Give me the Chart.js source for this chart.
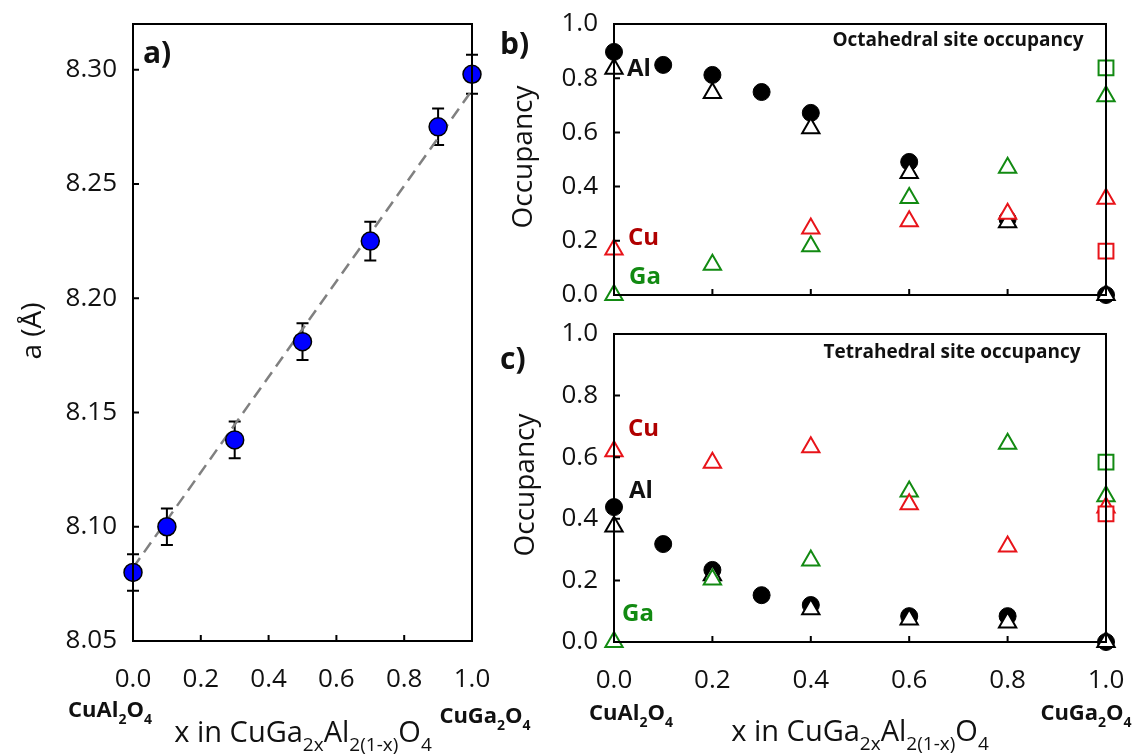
<!DOCTYPE html>
<html>
<head>
<meta charset="utf-8">
<script src="https://cdn.jsdelivr.net/npm/chart.js@4.4.1/dist/chart.umd.min.js"></script>
<style>
  body { margin: 0; background: #fff; }
  #wrap { position: relative; width: 1136px; height: 754px; }
  canvas { position: absolute; left: 0; top: 0; }
</style>
</head>
<body>
<div id="wrap">
  <canvas id="chartA" width="1136" height="754"></canvas>
  <canvas id="chartB" width="1136" height="754"></canvas>
  <canvas id="chartC" width="1136" height="754"></canvas>
</div>
<script>
// tick labels
const xTicks = [0, 0.2, 0.4, 0.6, 0.8, 1.0];
const aTicks = [8.05, 8.10, 8.15, 8.20, 8.25, 8.30];
const occTicks = [0, 0.2, 0.4, 0.6, 0.8, 1.0];

// a) lattice parameter vs x
const xLattice = [0, 0.1, 0.3, 0.5, 0.7, 0.9, 1.0];
const aLattice = [8.080, 8.100, 8.138, 8.181, 8.225, 8.275, 8.298];
const aError = [0.008, 0.008, 0.008, 0.008, 0.0085, 0.008, 0.0085];
const fitX = [0, 1];
const fitY = [8.082, 8.291];

// b) + c) site occupancies
const xCircle = [0, 0.1, 0.2, 0.3, 0.4, 0.6, 0.8, 1.0];
const xTri = [0, 0.2, 0.4, 0.6, 0.8, 1.0];
const xEnd = [1.0];

const octAlCircle = [0.897, 0.849, 0.812, 0.749, 0.672, 0.491, 0.28, 0.0];
const octAlTri = [0.835, 0.745, 0.615, 0.45, 0.268, 0.0];
const octCuTri = [0.168, null, 0.245, 0.272, 0.30, 0.355];
const octGaTri = [0.0, 0.112, 0.18, 0.358, 0.47, 0.733];
const octGaSq = [0.838];
const octCuSq = [0.162];

const tetAlCircle = [0.438, 0.318, 0.234, 0.152, 0.12, 0.084, 0.084, 0.0];
const tetAlTri = [0.375, 0.217, 0.106, 0.073, 0.063, 0.0];
const tetCuTri = [0.619, 0.582, 0.632, 0.447, 0.31, 0.437];
const tetGaTri = [0.0, 0.203, 0.265, 0.489, 0.644, 0.473];
const tetGaSq = [0.584];
const tetCuSq = [0.416];

const RED = '#e8141a';
const DARKRED = '#b00000';
const GREEN = '#128a12';
const FONT = '"Open Sans"';

Chart.defaults.font.family = FONT;
Chart.defaults.color = '#111';

function pts(xs, ys) {
  return xs.map((x, i) => ({ x: x, y: ys[i] }));
}

// text with subscripts, parts = [[text, isSub], ...]
function drawRich(ctx, parts, x, y, size, weight, align) {
  const sub = Math.round(size * 0.64);
  ctx.textAlign = 'left';
  ctx.textBaseline = 'alphabetic';
  let w = 0;
  parts.forEach(p => {
    ctx.font = weight + ' ' + (p[1] ? sub : size) + 'px ' + FONT;
    w += ctx.measureText(p[0]).width;
  });
  let cx = align === 'center' ? x - w / 2 : x;
  parts.forEach(p => {
    ctx.font = weight + ' ' + (p[1] ? sub : size) + 'px ' + FONT;
    ctx.fillText(p[0], cx, p[1] ? y + size * 0.3 : y);
    cx += ctx.measureText(p[0]).width;
  });
}

const xTitle = [['x in CuGa', 0], ['2x', 1], ['Al', 0], ['2(1-x)', 1], ['O', 0], ['4', 1]];
const cuAl = [['CuAl', 0], ['2', 1], ['O', 0], ['4', 1]];
const cuGa = [['CuGa', 0], ['2', 1], ['O', 0], ['4', 1]];

// frame, inward ticks and labels
function makeDeco(yTickVals, texts, errorBars) {
  return {
    id: 'deco',
    beforeDatasetsDraw(chart) {
      const ctx = chart.ctx;
      if (errorBars) {
        const xs = chart.scales.x, ys = chart.scales.y;
        ctx.save();
        ctx.strokeStyle = '#000';
        ctx.lineWidth = 2;
        xLattice.forEach((xv, i) => {
          const px = xs.getPixelForValue(xv);
          const top = ys.getPixelForValue(aLattice[i] + aError[i]);
          const bot = ys.getPixelForValue(aLattice[i] - aError[i]);
          ctx.beginPath();
          ctx.moveTo(px, top); ctx.lineTo(px, bot);
          ctx.moveTo(px - 6, top); ctx.lineTo(px + 6, top);
          ctx.moveTo(px - 6, bot); ctx.lineTo(px + 6, bot);
          ctx.stroke();
        });
        ctx.restore();
      }
    },
    afterDraw(chart) {
      const ctx = chart.ctx;
      const a = chart.chartArea;
      const xs = chart.scales.x, ys = chart.scales.y;
      ctx.save();
      ctx.strokeStyle = '#000';
      ctx.lineWidth = 2;
      ctx.strokeRect(a.left, a.top, a.right - a.left, a.bottom - a.top);
      ctx.beginPath();
      xTicks.forEach(v => {
        const px = xs.getPixelForValue(v);
        ctx.moveTo(px, a.bottom); ctx.lineTo(px, a.bottom - 6);
      });
      yTickVals.forEach(v => {
        const py = ys.getPixelForValue(v);
        ctx.moveTo(a.left, py); ctx.lineTo(a.left + 6, py);
      });
      ctx.stroke();
      texts.forEach(t => {
        ctx.fillStyle = t.color || '#111';
        if (t.rich) {
          drawRich(ctx, t.rich, t.x, t.y, t.size, t.weight || 'normal', t.align || 'center');
          return;
        }
        ctx.font = (t.weight || 'normal') + ' ' + t.size + 'px ' + FONT;
        ctx.textAlign = t.align || 'left';
        ctx.textBaseline = t.base || 'middle';
        if (t.rotate) {
          ctx.save();
          ctx.translate(t.x, t.y);
          ctx.rotate(-Math.PI / 2);
          ctx.fillText(t.text, 0, 0);
          ctx.restore();
        } else {
          ctx.fillText(t.text, t.x, t.y);
        }
      });
      ctx.restore();
    }
  };
}

function scales(xShowLabels, yMin, yMax, yVals, yDigits) {
  return {
    x: {
      type: 'linear', min: 0, max: 1,
      afterBuildTicks: s => { s.ticks = xTicks.map(v => ({ value: v })); },
      afterFit: s => { s.height = 60; s.paddingLeft = 0; s.paddingRight = 0; },
      grid: { display: false, drawTicks: false },
      border: { display: false },
      ticks: {
        display: xShowLabels, padding: 23,
        font: { size: 26 },
        callback: v => v.toFixed(1)
      }
    },
    y: {
      type: 'linear', min: yMin, max: yMax,
      afterBuildTicks: s => { s.ticks = yVals.map(v => ({ value: v })); },
      afterFit: s => { s.width = 100; s.paddingTop = 0; s.paddingBottom = 0; },
      grid: { display: false, drawTicks: false },
      border: { display: false },
      ticks: {
        padding: 16,
        font: { size: 26 },
        callback: v => v.toFixed(yDigits)
      }
    }
  };
}

const common = {
  responsive: false,
  animation: false,
  events: [],
  plugins: { legend: { display: false }, tooltip: { enabled: false } }
};

function triSet(xs, ys, color, order) {
  return {
    data: pts(xs, ys), pointStyle: 'triangle', pointRadius: 10,
    backgroundColor: '#fff', borderColor: color, borderWidth: 2,
    order: order, clip: false
  };
}
function sqSet(ys, color, order) {
  return {
    data: pts(xEnd, ys), pointStyle: 'rect', pointRadius: 10.5,
    backgroundColor: '#fff', borderColor: color, borderWidth: 2,
    order: order, clip: false
  };
}
function circleSet(ys, order) {
  return {
    data: pts(xCircle, ys), pointStyle: 'circle', pointRadius: 8.5,
    backgroundColor: '#000', borderColor: '#000', borderWidth: 1,
    order: order, clip: false
  };
}

// ---- a) ----
new Chart(document.getElementById('chartA'), {
  type: 'scatter',
  data: {
    datasets: [
      {
        data: pts(xLattice, aLattice), pointStyle: 'circle', pointRadius: 9,
        backgroundColor: '#0000ff', borderColor: '#000', borderWidth: 1.5,
        order: 0, clip: false
      },
      {
        data: pts(fitX, fitY), showLine: true, pointRadius: 0,
        borderColor: '#808080', borderWidth: 2.5, borderDash: [12, 7],
        order: 1
      }
    ]
  },
  options: Object.assign({}, common, {
    layout: { padding: { left: 33, top: 24, right: 664, bottom: 53 } },
    scales: scales(true, 8.05, 8.32, aTicks, 2)
  }),
  plugins: [makeDeco(aTicks, [
    { text: 'a)', x: 143, y: 63, size: 30, weight: 'bold', base: 'alphabetic' },
    { text: 'a (Å)', x: 33, y: 331, size: 28, rotate: true, align: 'center' },
    { rich: xTitle, x: 303, y: 742, size: 29 },
    { rich: cuAl, x: 110, y: 717, size: 22, weight: 'bold' },
    { rich: cuGa, x: 485, y: 723, size: 22, weight: 'bold' }
  ], true)]
});

// ---- b) octahedral ----
new Chart(document.getElementById('chartB'), {
  type: 'scatter',
  data: {
    datasets: [
      sqSet(octGaSq, GREEN, 0),
      sqSet(octCuSq, RED, 0),
      triSet(xTri, octCuTri, RED, 1),
      triSet(xTri, octGaTri, GREEN, 2),
      triSet(xTri, octAlTri, '#000', 3),
      circleSet(octAlCircle, 4)
    ]
  },
  options: Object.assign({}, common, {
    layout: { padding: { left: 514, top: 24, right: 30, bottom: 399 } },
    scales: scales(false, 0, 1, occTicks, 1)
  }),
  plugins: [makeDeco(occTicks, [
    { text: 'b)', x: 500, y: 54, size: 30, weight: 'bold', base: 'alphabetic' },
    { text: 'Octahedral site occupancy', x: 958, y: 41, size: 19, weight: 'bold', align: 'center' },
    { text: 'Al', x: 627, y: 69, size: 24, weight: 'bold' },
    { text: 'Cu', x: 628, y: 238, size: 24, weight: 'bold', color: DARKRED },
    { text: 'Ga', x: 629, y: 277, size: 24, weight: 'bold', color: GREEN },
    { text: 'Occupancy', x: 524, y: 157, size: 28, rotate: true, align: 'center' }
  ], false)]
});

// ---- c) tetrahedral ----
new Chart(document.getElementById('chartC'), {
  type: 'scatter',
  data: {
    datasets: [
      sqSet(tetGaSq, GREEN, 0),
      sqSet(tetCuSq, RED, 0),
      triSet(xTri, tetCuTri, RED, 1),
      triSet(xTri, tetGaTri, GREEN, 2),
      triSet(xTri, tetAlTri, '#000', 3),
      circleSet(tetAlCircle, 4)
    ]
  },
  options: Object.assign({}, common, {
    layout: { padding: { left: 514, top: 334, right: 30, bottom: 52 } },
    scales: scales(true, 0, 1, occTicks, 1)
  }),
  plugins: [makeDeco(occTicks, [
    { text: 'c)', x: 500, y: 369, size: 30, weight: 'bold', base: 'alphabetic' },
    { text: 'Tetrahedral site occupancy', x: 952, y: 353, size: 19, weight: 'bold', align: 'center' },
    { text: 'Cu', x: 628, y: 429, size: 24, weight: 'bold', color: DARKRED },
    { text: 'Al', x: 629, y: 491, size: 24, weight: 'bold' },
    { text: 'Ga', x: 622, y: 614, size: 24, weight: 'bold', color: GREEN },
    { text: 'Occupancy', x: 526, y: 485, size: 28, rotate: true, align: 'center' },
    { rich: xTitle, x: 860, y: 741, size: 29 },
    { rich: cuAl, x: 631, y: 720, size: 22, weight: 'bold' },
    { rich: cuGa, x: 1086, y: 720, size: 22, weight: 'bold' }
  ], false)]
});
</script>
</body>
</html>
